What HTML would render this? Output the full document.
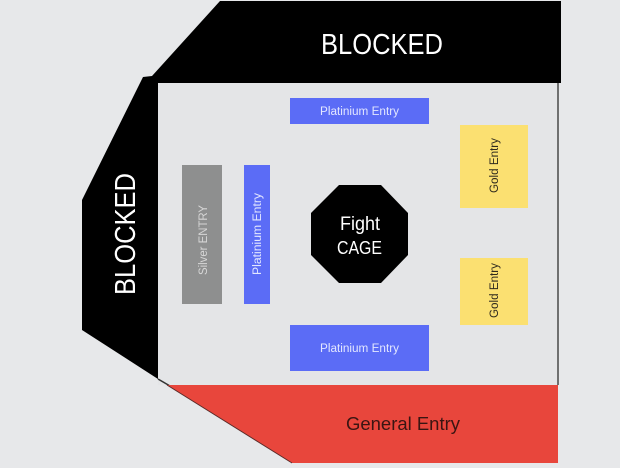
<!DOCTYPE html>
<html><head><meta charset="utf-8"><style>
html,body{margin:0;padding:0;background:#e7e8ea;}
svg{display:block;}
text{font-family:"Liberation Sans",sans-serif;}
</style></head><body>
<svg width="620" height="468" viewBox="0 0 620 468" xmlns="http://www.w3.org/2000/svg">
<rect x="0" y="0" width="620" height="468" fill="#e7e8ea"/>
<!-- inner floor -->
<rect x="158" y="83" width="400" height="302" fill="#e4e5e7"/>
<rect x="557" y="83" width="2" height="302" fill="#6f7070"/>
<!-- black blocked shape -->
<polygon points="220,1 561,1 561,83 158,83 158,379 82,330 82,200 143,77 152,76" fill="#000"/>
<line x1="158" y1="379" x2="170" y2="386" stroke="#333" stroke-width="1.5"/>
<!-- red general entry -->
<polygon points="167,385 558,385 558,463 292,463" fill="#e8463c"/>
<line x1="167" y1="385" x2="292" y2="463" stroke="#5a2a28" stroke-width="1"/>
<!-- platinium horizontal -->
<rect x="290" y="98" width="139" height="26" fill="#5b6cf6"/>
<rect x="290" y="325" width="139" height="46" fill="#5b6cf6"/>
<!-- gold -->
<rect x="460" y="125" width="68" height="83" fill="#fbe071"/>
<rect x="460" y="258" width="68" height="67" fill="#fbe071"/>
<!-- silver -->
<rect x="182" y="165" width="40" height="139" fill="#8e8f8f"/>
<!-- platinium vertical -->
<rect x="244" y="165" width="26" height="139" fill="#5b6cf6"/>
<!-- octagon -->
<polygon points="339,185 381,185 408,213 408,255 381,283 339,283 311,255 311,213" fill="#000"/>

<!-- texts -->
<text x="321" y="54" font-size="29" fill="#fff" textLength="122" lengthAdjust="spacingAndGlyphs">BLOCKED</text>
<text transform="translate(135,295) rotate(-90)" x="0" y="0" font-size="29" fill="#fff" textLength="122" lengthAdjust="spacingAndGlyphs">BLOCKED</text>
<text x="340" y="230" font-size="19" fill="#fff" textLength="40" lengthAdjust="spacingAndGlyphs">Fight</text>
<text x="337" y="254" font-size="18" fill="#fff" textLength="45" lengthAdjust="spacingAndGlyphs">CAGE</text>
<text x="320" y="115" font-size="11.5" fill="#e3e7ff" textLength="79" lengthAdjust="spacingAndGlyphs">Platinium Entry</text>
<text x="320" y="352" font-size="11.5" fill="#e3e7ff" textLength="79" lengthAdjust="spacingAndGlyphs">Platinium Entry</text>
<text x="346" y="430" font-size="18" fill="#3a1512" textLength="114" lengthAdjust="spacingAndGlyphs">General Entry</text>
<text transform="translate(498,193) rotate(-90)" x="0" y="0" font-size="11.5" fill="#2f2a1e" textLength="55" lengthAdjust="spacingAndGlyphs">Gold Entry</text>
<text transform="translate(498,318) rotate(-90)" x="0" y="0" font-size="11.5" fill="#2f2a1e" textLength="55" lengthAdjust="spacingAndGlyphs">Gold Entry</text>
<text transform="translate(207,275) rotate(-90)" x="0" y="0" font-size="11.5" fill="#d6d6d6" textLength="70" lengthAdjust="spacingAndGlyphs">Silver  ENTRY</text>
<text transform="translate(261,275) rotate(-90)" x="0" y="0" font-size="11.5" fill="#e3e7ff" textLength="82" lengthAdjust="spacingAndGlyphs">Platinium Entry</text>
</svg>
</body></html>
